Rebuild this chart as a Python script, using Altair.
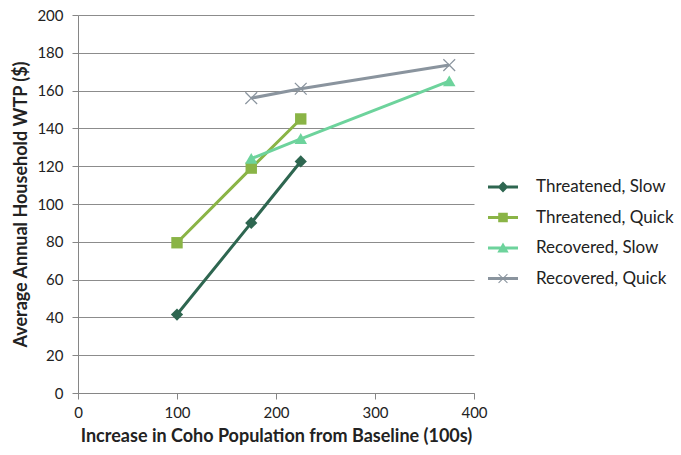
import altair as alt
import pandas as pd

series_names = ["Threatened, Slow", "Threatened, Quick", "Recovered, Slow", "Recovered, Quick"]
colors = ["#2E6650", "#8AB446", "#6DD39C", "#8A949E"]

ts_x = [100, 175, 225]
ts_y = [41.5, 90, 122.5]
tq_x = [100, 175, 225]
tq_y = [79.5, 119, 145]
rs_x = [175, 225, 375]
rs_y = [124, 134.5, 165]
rq_x = [175, 225, 375]
rq_y = [156, 161, 173.5]

rows = []
for name, xs, ys in zip(series_names, [ts_x, tq_x, rs_x, rq_x], [ts_y, tq_y, rs_y, rq_y]):
    for x, y in zip(xs, ys):
        rows.append({"series": name, "x": x, "y": y})
df = pd.DataFrame(rows)

DIAMOND = "M0,-1L1,0L0,1L-1,0Z"
SQUARE = "M-1,-1L1,-1L1,1L-1,1Z"
TRI = "M0,-1L1.1,0.9L-1.1,0.9Z"
XPATH = "M-1,-0.86L-0.86,-1L0,-0.14L0.86,-1L1,-0.86L0.14,0L1,0.86L0.86,1L0,0.14L-0.86,1L-1,0.86L-0.14,0Z"
marker_paths = [DIAMOND, SQUARE, TRI, XPATH]
marker_sizes = [150, 130, 130, 160]

BAR = "M-1,-0.1L1,-0.1L1,0.1L-1,0.1Z "
L_DIAMOND = BAR + "M0,-0.36L0.36,0L0,0.36L-0.36,0Z"
L_SQUARE = BAR + "M-0.32,-0.32L0.32,-0.32L0.32,0.32L-0.32,0.32Z"
L_TRI = BAR + "M0,-0.36L0.38,0.3L-0.38,0.3Z"
L_X = BAR + "M-0.32,-0.27L-0.27,-0.32L0,-0.05L0.27,-0.32L0.32,-0.27L0.05,0L0.32,0.27L0.27,0.32L0,0.05L-0.27,0.32L-0.32,0.27L-0.05,0Z"
legend_paths = [L_DIAMOND, L_SQUARE, L_TRI, L_X]

FONT = "Lato"

xenc = alt.X(
    "x:Q",
    scale=alt.Scale(domain=[0, 400], nice=False),
    axis=alt.Axis(values=[0, 100, 200, 300, 400], grid=False, ticks=True,
                  title="Increase in Coho Population from Baseline (100s)"),
)
yenc = alt.Y(
    "y:Q",
    scale=alt.Scale(domain=[0, 200], nice=False),
    axis=alt.Axis(values=[0, 20, 40, 60, 80, 100, 120, 140, 160, 180, 200], grid=True, ticks=True,
                  title="Average Annual Household WTP ($)", titleFontSize=18),
)

base = alt.Chart(df)

layers = []
for name, col, path, sz in zip(series_names, colors, marker_paths, marker_sizes):
    sub = base.transform_filter(alt.datum.series == name)
    layers.append(sub.mark_line(strokeWidth=3, color=col).encode(x=xenc, y=yenc, order="x:Q"))
    layers.append(sub.mark_point(filled=True, size=sz, opacity=1, shape=path, color=col).encode(x=xenc, y=yenc))

leg = dict(
    title=None,
    orient="none",
    legendX=410,
    legendY=157,
    symbolSize=900,
    labelFont=FONT,
    labelFontSize=17,
    labelColor="#222",
    rowPadding=7.5,
    symbolOpacity=1,
    symbolStrokeWidth=0,
    labelOffset=18,
)

legend_layer = base.transform_filter("false").mark_point(filled=True, opacity=1).encode(
    color=alt.Color("series:N", scale=alt.Scale(domain=series_names, range=colors), legend=alt.Legend(**leg)),
    shape=alt.Shape("series:N", scale=alt.Scale(domain=series_names, range=legend_paths), legend=alt.Legend(**leg)),
)
layers.append(legend_layer)

chart = alt.layer(*layers).properties(
    width=396,
    height=378,
    autosize=alt.AutoSizeParams(type="none"),
    padding={"left": 78, "top": 15, "right": 207, "bottom": 62},
).configure_view(stroke=None).configure_axis(
    domainColor="#868686",
    domainWidth=1,
    tickColor="#868686",
    tickSize=6,
    gridColor="#8c8c8c",
    gridWidth=1,
    labelFont=FONT,
    labelFontSize=15,
    labelColor="#222",
    labelOverlap=False,
    labelFlush=False,
    titleFont=FONT,
    titleFontSize=18,
    titleFontWeight="bold",
    titleColor="#222",
).configure_axisX(labelPadding=6, titlePadding=7).configure_axisY(labelPadding=9, titlePadding=6)

chart.save("out.html", embed_options={"renderer": "svg", "actions": False})
